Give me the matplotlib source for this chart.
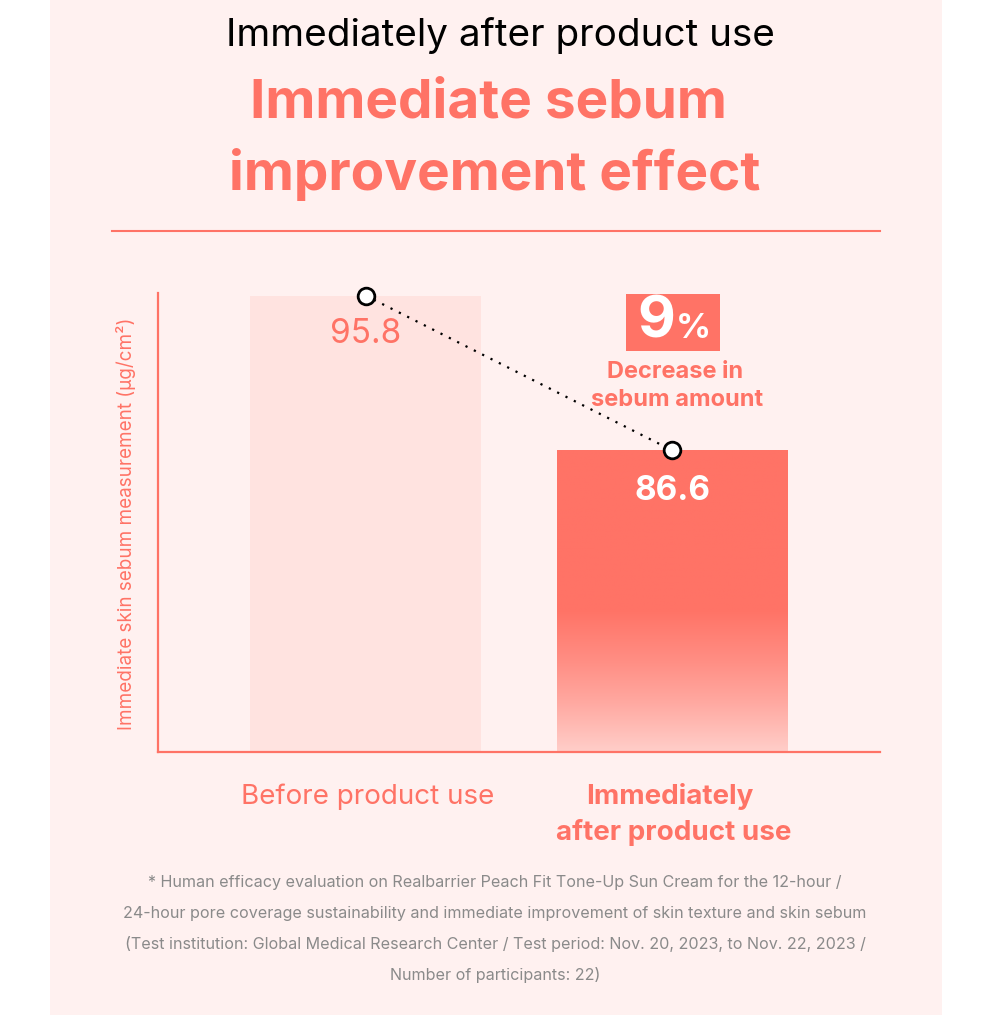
import matplotlib
matplotlib.use("Agg")
import matplotlib.pyplot as plt
import numpy as np
from matplotlib.colors import LinearSegmentedColormap
from matplotlib.patches import Rectangle

categories = ["Before product use", "Immediately\nafter product use"]
values = [95.8, 86.6]
value_labels = ["95.8", "86.6"]
decrease_pct = "9"

CORAL = "#FF7366"
LIGHT_BAR = "#FFE3E0"
PANEL = "#FFF1F0"
GRAY = "#8A8A8A"
FONT = ["Inter", "DejaVu Sans"]

W, H = 992, 1015
fig = plt.figure(figsize=(W / 100, H / 100), dpi=100)
fig.patch.set_facecolor("white")

def fx(px):
    return px / W

def fy(py):
    return 1 - py / H

# background panel
fig.add_artist(Rectangle((fx(50), 0), fx(942) - fx(50), 1, transform=fig.transFigure,
                         facecolor=PANEL, edgecolor="none", zorder=0))

# titles
fig.text(fx(500), fy(36), "Immediately after product use", ha="center", va="center",
         fontsize=27.8, color="black", family=FONT)
fig.text(fx(488), fy(104), "Immediate sebum", ha="center", va="center",
         fontsize=39.5, color=CORAL, fontweight="bold", family=FONT)
fig.text(fx(495), fy(174), "improvement effect", ha="center", va="center",
         fontsize=39.5, color=CORAL, fontweight="bold", family=FONT)
fig.add_artist(plt.Line2D([fx(112), fx(880)], [fy(231), fy(231)], transform=fig.transFigure,
                          color=CORAL, lw=1.5))

# axes
ax = fig.add_axes([fx(158), fy(752), fx(880) - fx(158), fy(293) - fy(752)])
ax.set_facecolor("none")
for s in ["top", "right"]:
    ax.spines[s].set_visible(False)
for s in ["left", "bottom"]:
    ax.spines[s].set_color(CORAL)
    ax.spines[s].set_linewidth(1.6)
ax.set_xticks([])
ax.set_yticks([])

x = np.arange(len(categories))
bw = 0.752
ax.bar(x, values, width=bw, color=[LIGHT_BAR, "none"], bottom=0, zorder=1)

# gradient for second bar
cmap = LinearSegmentedColormap.from_list(
    "g", [(0.0, "#FFCEC9"), (0.17, "#FFA79F"), (0.3, "#FF8E84"), (0.47, CORAL), (1.0, CORAL)])
grad = np.linspace(0, 1, 256).reshape(-1, 1)
YLO, YHI = 68.7, 95.95
ax.imshow(grad, cmap=cmap, origin="lower", aspect="auto",
          extent=(x[1] - bw / 2, x[1] + bw / 2, YLO, values[1]), zorder=1)
ax.set_xlim(-0.676, 1.676)
ax.set_ylim(YLO, YHI)

# dotted line with circles
ax.plot(x, values, linestyle=(0, (1, 3.2)), color="black", lw=1.6, zorder=3)
ax.plot(x, values, linestyle="none", marker="o", markersize=12, markerfacecolor="white",
        markeredgecolor="black", markeredgewidth=2, zorder=4, clip_on=False)

# value labels
ax.text(x[0], values[0] - 2.3, value_labels[0], ha="center", va="center", fontsize=24,
        color=CORAL, family=FONT)
ax.text(x[1], values[1] - 2.4, value_labels[1], ha="center", va="center", fontsize=24,
        color="white", fontweight="bold", family=FONT)

# 9% badge
fig.add_artist(Rectangle((fx(626), fy(351)), fx(720) - fx(626), fy(294) - fy(351),
                         transform=fig.transFigure, facecolor=CORAL, edgecolor="none"))
fig.text(fx(656), fy(323), decrease_pct, ha="center", va="center", fontsize=42,
         color="white", fontweight="bold", family=FONT)
fig.text(fx(693), fy(329), "%", ha="center", va="center", fontsize=25,
         color="white", fontweight="bold", family=FONT)
fig.text(fx(675), fy(372), "Decrease in", ha="center", va="center", fontsize=17,
         color=CORAL, fontweight="bold", family=FONT)
fig.text(fx(677), fy(400), "sebum amount", ha="center", va="center", fontsize=17,
         color=CORAL, fontweight="bold", family=FONT)

# y label
fig.text(fx(126), fy(524), "Immediate skin sebum measurement (μg/cm²)", ha="center",
         va="center", rotation=90, fontsize=13.6, color=CORAL, family=FONT)

# category labels
fig.text(fx(368), fy(797), categories[0], ha="center", va="center", fontsize=20,
         color=CORAL, family=FONT)
lines = categories[1].split("\n")
fig.text(fx(670), fy(797), lines[0], ha="center", va="center", fontsize=20,
         color=CORAL, fontweight="bold", family=FONT)
fig.text(fx(674), fy(832), lines[1], ha="center", va="center", fontsize=20,
         color=CORAL, fontweight="bold", family=FONT)

# footnote
foot = [
    "* Human efficacy evaluation on Realbarrier Peach Fit Tone-Up Sun Cream for the 12-hour /",
    "24-hour pore coverage sustainability and immediate improvement of skin texture and skin sebum",
    "(Test institution: Global Medical Research Center / Test period: Nov. 20, 2023, to Nov. 22, 2023 /",
    "Number of participants: 22)",
]
for i, t in enumerate(foot):
    fig.text(fx(495), fy(883 + i * 30.7), t, ha="center", va="center", fontsize=11.6,
             color=GRAY, family=FONT)

fig.savefig("out.png", dpi=100, facecolor=fig.get_facecolor())
